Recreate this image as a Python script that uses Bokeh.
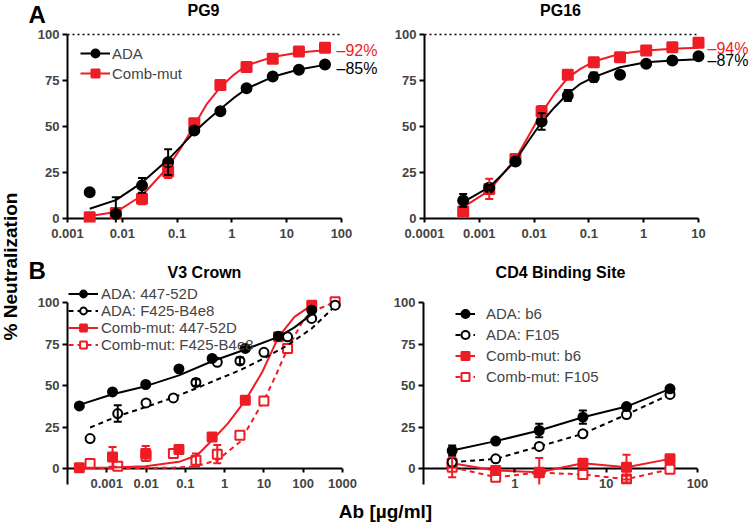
import math
from bokeh.plotting import figure
from bokeh.models import (Range1d, FixedTicker, CustomJSTickFormatter, Label, Legend,
                          LegendItem, Whisker, TeeHead, ColumnDataSource)
from bokeh.layouts import row, column
from bokeh.embed import file_html
from bokeh.resources import INLINE

RED = "#ee1c25"
BLACK = "#000000"
FONT = "Liberation Sans"

# ---------------- Panel A: PG9 ----------------
PG9_X = [0.00254, 0.00762, 0.0229, 0.0686, 0.206, 0.617, 1.85, 5.56, 16.7, 50]
PG9_ADA = [14.3, 2.5, 18, 30.6, 47.8, 58.3, 70.8, 77.2, 80.8, 83.7]
PG9_ADA_ERR = [0, 9, 4, 7, 0, 0, 0, 0, 0, 0]
PG9_MUT = [0.7, 3, 10.7, 25.5, 51.8, 72.6, 82.3, 86.8, 90.8, 92.8]
PG9_MUT_ERR = [0, 0, 3, 3.5, 0, 0, 0, 0, 0, 0]
PG9_FIT_X = [0.00254, 0.00762, 0.0229, 0.0686, 0.12, 0.206, 0.35, 0.617, 1.07, 1.85, 5.56, 16.7, 50]
PG9_ADA_FIT = [5.3, 10, 19.5, 32, 39.5, 47, 53.3, 59.5, 65.4, 70.5, 77, 81, 83.5]
PG9_MUT_FIT = [1.3, 3.5, 12.5, 28, 38.8, 50.5, 62.3, 71.4, 78, 83.2, 87.8, 90.2, 91.5]
PG9_TOPS = ["–92%", "–85%"]

# ---------------- Panel A: PG16 ----------------
PG16_X = [0.000508, 0.00152, 0.00457, 0.0137, 0.0412, 0.123, 0.37, 1.11, 3.33, 10]
PG16_ADA = [9.8, 16.7, 31, 52.7, 66.8, 76.8, 78.1, 84.1, 85.9, 88.2]
PG16_ADA_ERR = [3.5, 1.5, 2, 4.5, 3, 2.5, 0, 0, 0, 0]
PG16_MUT = [3.8, 16.1, 32.4, 58.2, 78.1, 84.9, 87.7, 91.3, 93.1, 95.5]
PG16_MUT_ERR = [0, 5.5, 0, 3, 0, 0, 0, 0, 0, 0]
PG16_FIT_X = [0.000508, 0.00152, 0.0027, 0.00457, 0.008, 0.0137, 0.0237, 0.0412, 0.07, 0.123, 0.37, 1.11, 3.33, 10]
PG16_ADA_FIT = [8.9, 17, 24.3, 31.5, 42.4, 52.3, 60.5, 67.8, 73.2, 76.8, 82.2, 84.9, 85.9, 86.5]
PG16_MUT_FIT = [6.2, 15.2, 24.3, 32.4, 45.1, 57.4, 67.8, 76.4, 81.3, 85.3, 89.5, 91.3, 92.2, 92.8]
PG16_TOPS = ["–94%", "–87%"]

# ---------------- Panel B: V3 Crown ----------------
V3_X_447 = [0.0002, 0.0014, 0.0098, 0.0686, 0.48, 3.36, 23.5, 165]
V3_ADA_447 = [37.7, 46.1, 50.6, 60, 66.3, 72.3, 79.7, 95.4]
V3_ADA_447_ERR = [0, 0, 0, 0, 0, 0, 0, 0]
V3_MUT_447 = [0.4, 7, 9, 11.4, 19, 41.1, 79.3, 98.4]
V3_MUT_447_ERR = [0, 6, 4.5, 0, 0, 0, 0, 0]
V3_X_F425 = [0.000376, 0.0019, 0.01, 0.0496, 0.186, 0.65, 2.45, 10, 40, 164, 650]
V3_ADA_F425 = [18, 33.1, 39.5, 42.5, 51.8, 64, 64.8, 70, 79.3, 90.4, 98.4]
V3_ADA_F425_ERR = [0, 5, 0, 0, 2, 0, 2, 0, 0, 0, 0]
V3_X_MUT_F425 = [0.000376, 0.0019, 0.01, 0.0496, 0.186, 0.65, 2.45, 10, 40, 650]
V3_MUT_F425 = [3, 1.4, 7.5, 9, 5, 8.6, 20, 40.7, 72.3, 100.4]
V3_MUT_F425_ERR = [0, 0, 0, 0, 4, 5.5, 0, 0, 0, 0]
V3_ADA_447_FIT_X = [0.0002, 0.0014, 0.0098, 0.0686, 0.48, 3.36, 23.5, 60, 165]
V3_ADA_447_FIT = [38.3, 44.7, 49.6, 56.1, 64.6, 71.7, 79.3, 85, 93]
V3_ADA_F425_FIT_X = [0.000376, 0.0019, 0.01, 0.0496, 0.186, 0.65, 2.45, 10, 40, 164, 650]
V3_ADA_F425_FIT = [24.7, 31.5, 37.1, 42.8, 48.2, 53.6, 59.2, 66.3, 74.3, 84.3, 97.8]
V3_MUT_447_FIT_X = [0.0002, 0.0014, 0.0098, 0.0686, 0.2, 0.48, 1.2, 3.36, 9, 23.5, 60, 165]
V3_MUT_447_FIT = [0.4, 0.6, 1.4, 4, 8, 17, 27, 41, 58, 79.3, 91.3, 98.4]
V3_MUT_F425_FIT_X = [0.000376, 0.0019, 0.01, 0.0496, 0.186, 0.65, 2.45, 10, 20, 40, 100, 165, 650]
V3_MUT_F425_FIT = [0.4, 0.3, 0.3, 0.5, 1.4, 5, 16, 41, 56, 72.3, 89.3, 94.4, 100.4]

# ---------------- Panel B: CD4 binding site ----------------
CD4_X = [0.206, 0.617, 1.85, 5.56, 16.7, 50]
CD4_ADA_B6 = [10.8, 16.5, 22.9, 30.9, 37.3, 48]
CD4_ADA_B6_ERR = [3, 0, 4, 4, 1.5, 0]
CD4_ADA_F105 = [3.8, 5.8, 13.3, 20.9, 32.5, 44.6]
CD4_ADA_F105_ERR = [0, 0, 0, 0, 0, 0]
CD4_MUT_B6 = [3.2, -1.2, -2.2, 3.2, 0.8, 5.8]
CD4_MUT_B6_ERR = [0, 0, 8.5, 0, 7.5, 0]
CD4_MUT_F105 = [0.8, -5.2, -2.5, -3.6, -6.4, -0.5]
CD4_MUT_F105_ERR = [6, 0, 0, 0, 2, 0]

# tick labels
TICKS_PG9 = [0.001, 0.01, 0.1, 1, 10, 100]
LABELS_PG9 = ["0.001", "0.01", "0.1", "1", "10", "100"]
TICKS_PG16 = [0.0001, 0.001, 0.01, 0.1, 1, 10]
LABELS_PG16 = ["0.0001", "0.001", "0.01", "0.1", "1", "10"]
TICKS_V3 = [0.001, 0.01, 0.1, 1, 10, 100, 1000]
LABELS_V3 = ["0.001", "0.01", "0.1", "1", "10", "100", "1000"]
TICKS_CD4 = [1, 10, 100]
LABELS_CD4 = ["1", "10", "100"]
Y_TICKS = [0, 25, 50, 75, 100]

# axis extents (data units)
PG9_AXIS = (0.001, 100)
PG16_AXIS = (0.0001, 10)
V3_AXIS = (0.0001, 1000)
CD4_AXIS = (0.1, 100)
TOP_LINE = 100


def make_panel(width, height, xr, yr, borders, xticks, xlabels, xaxis_bounds,
               ybounds, tick_in, tick_out, standoff):
    bl, br, bt, bb = borders
    p = figure(width=width, height=height, x_axis_type="log",
               x_range=Range1d(*xr), y_range=Range1d(*yr), title=None,
               output_backend="svg", toolbar_location=None,
               min_border_left=bl, min_border_right=br,
               min_border_top=bt, min_border_bottom=bb)
    p.outline_line_color = None
    p.xgrid.visible = False
    p.ygrid.visible = False
    p.background_fill_color = "white"
    p.border_fill_color = "white"

    xa = p.xaxis[0]
    xa.ticker = FixedTicker(ticks=xticks)
    xa.formatter = CustomJSTickFormatter(
        args=dict(tvals=xticks, tlabels=xlabels),
        code="""
        for (let i = 0; i < tvals.length; i++) {
            if (Math.abs(Math.log10(tvals[i]) - Math.log10(tick)) < 1e-6) return tlabels[i];
        }
        return "";
        """)
    xa.axis_line_color = None
    xa.major_tick_in = tick_in
    xa.major_tick_out = tick_out
    xa.minor_tick_in = 0
    xa.minor_tick_out = 0
    xa.major_tick_line_width = 2
    xa.major_label_standoff = standoff
    xa.bounds = xaxis_bounds
    xa.major_label_text_font = FONT
    xa.major_label_text_font_style = "bold"
    xa.major_label_text_font_size = "13px"

    ya = p.yaxis[0]
    ya.ticker = FixedTicker(ticks=Y_TICKS)
    ya.axis_line_width = 2
    ya.major_tick_in = 0
    ya.major_tick_out = 5
    ya.minor_tick_in = 0
    ya.minor_tick_out = 0
    ya.major_tick_line_width = 2
    ya.major_label_standoff = 3
    ya.bounds = ybounds
    ya.major_label_text_font = FONT
    ya.major_label_text_font_style = "bold"
    ya.major_label_text_font_size = "13px"

    # x axis line drawn at y = 0
    p.line(x=list(xaxis_bounds), y=[0, 0], line_color=BLACK, line_width=2)
    return p


def add_err(p, xs, ys, errs, color):
    xe = [x for x, e in zip(xs, errs) if e > 0]
    lo = [y - e for y, e in zip(ys, errs) if e > 0]
    hi = [y + e for y, e in zip(ys, errs) if e > 0]
    if not xe:
        return
    src = ColumnDataSource(dict(x=xe, lo=lo, hi=hi))
    w = Whisker(source=src, base="x", lower="lo", upper="hi",
                line_color=color, line_width=2,
                upper_head=TeeHead(size=8, line_color=color, line_width=2),
                lower_head=TeeHead(size=8, line_color=color, line_width=2))
    w.level = "glyph"
    p.add_layout(w)


def series(p, fx, fy, xs, ys, errs, color, marker, filled, dash, size):
    lr = p.line(x=fx, y=fy, line_color=color, line_width=2,
                line_dash=("5 4" if dash else "solid"))
    add_err(p, xs, ys, errs, color)
    sr = p.scatter(x=xs, y=ys, marker=marker, size=size,
                   fill_color=(color if filled else "white"),
                   line_color=color, line_width=2)
    return [lr, sr]


def add_text(p, x, y, text, size, color=BLACK, bold=True, align="left",
             baseline="middle", angle=0.0):
    p.add_layout(Label(x=x, y=y, x_units="screen", y_units="screen", text=text,
                       text_font=FONT, text_font_size=size, angle=angle,
                       text_font_style=("bold" if bold else "normal"),
                       text_color=color, text_align=align, text_baseline=baseline))


def make_legend(p, items, loc, glyph_w, glyph_h, standoff):
    leg = Legend(items=[LegendItem(label=l, renderers=r) for l, r in items],
                 location=loc, glyph_width=glyph_w, glyph_height=glyph_h,
                 label_height=glyph_h, spacing=0, padding=0, margin=0,
                 border_line_color=None, background_fill_alpha=0,
                 label_text_font=FONT, label_text_font_size="15px",
                 label_standoff=standoff)
    p.add_layout(leg)


def blank(width, height):
    p = figure(width=width, height=height, x_range=Range1d(0, 1), y_range=Range1d(0, 1),
               title=None, output_backend="svg", toolbar_location=None,
               x_axis_location=None, y_axis_location=None, min_border=0)
    p.outline_line_color = None
    p.grid.visible = False
    return p


# ---- geometry (pixels) ----
A_PX = 1.84   # px per % (row A)
B_PX = 1.66   # px per % (row B)
A_YR = (-4 / A_PX, 100 + 4 / A_PX)
B_YR = (-16 / B_PX, 100 + 17 / B_PX)
A_DEC = 54.8  # px per decade (row A)

# header strips
hA = blank(729, 28)
add_text(hA, 8, 14, "A", "24px")
add_text(hA, 183, 18, "PG9", "16px", align="center")
add_text(hA, 540, 18, "PG16", "16px", align="center")

hB = blank(729, 34)
add_text(hB, 8, 14, "B", "24px")
add_text(hB, 184, 12, "V3 Crown", "16px", align="center")
add_text(hB, 540, 12, "CD4 Binding Site", "16px", align="center")

# PG9
pA1 = make_panel(360, 222, (PG9_AXIS[0], 10 ** (-3 + 313 / A_DEC)), A_YR, (47, 0, 2, 28),
                 TICKS_PG9, LABELS_PG9, PG9_AXIS, (0, 100), 4, 0, 6)
pA1.line(x=list(PG9_AXIS), y=[TOP_LINE, TOP_LINE], line_color=BLACK, line_width=1.5,
         line_dash="2 3")
m1 = series(pA1, PG9_FIT_X, PG9_MUT_FIT, PG9_X, PG9_MUT, PG9_MUT_ERR, RED, "square", True, False, 10)
a1 = series(pA1, PG9_FIT_X, PG9_ADA_FIT, PG9_X, PG9_ADA, PG9_ADA_ERR, BLACK, "circle", True, False, 10)
make_legend(pA1, [("ADA", a1), ("Comb-mut", m1)], (13, 139), 30, 20, 2)
add_text(pA1, 269, 172, PG9_TOPS[0], "16px", RED, bold=False)
add_text(pA1, 269, 154, PG9_TOPS[1], "16px", BLACK, bold=False)

# PG16
pA2 = make_panel(369, 222, (PG16_AXIS[0], 10 ** (-4 + 325 / A_DEC)), A_YR, (44, 0, 2, 28),
                 TICKS_PG16, LABELS_PG16, PG16_AXIS, (0, 100), 4, 0, 6)
pA2.line(x=list(PG16_AXIS), y=[TOP_LINE, TOP_LINE], line_color=BLACK, line_width=1.5,
         line_dash="2 3")
series(pA2, PG16_FIT_X, PG16_MUT_FIT, PG16_X, PG16_MUT, PG16_MUT_ERR, RED, "square", True, False, 10)
series(pA2, PG16_FIT_X, PG16_ADA_FIT, PG16_X, PG16_ADA, PG16_ADA_ERR, BLACK, "circle", True, False, 10)
add_text(pA2, 283, 174, PG16_TOPS[0], "16px", RED, bold=False)
add_text(pA2, 283, 162, PG16_TOPS[1], "16px", BLACK, bold=False)

# V3 crown
pB1 = make_panel(360, 216, V3_AXIS, B_YR, (47, 38, 1, 16), TICKS_V3, LABELS_V3,
                 V3_AXIS, (B_YR[0], 100), 16, -12, -6)
mf = series(pB1, V3_MUT_F425_FIT_X, V3_MUT_F425_FIT, V3_X_MUT_F425, V3_MUT_F425, V3_MUT_F425_ERR,
            RED, "square", False, True, 9)
m4 = series(pB1, V3_MUT_447_FIT_X, V3_MUT_447_FIT, V3_X_447, V3_MUT_447, V3_MUT_447_ERR,
            RED, "square", True, False, 9)
af = series(pB1, V3_ADA_F425_FIT_X, V3_ADA_F425_FIT, V3_X_F425, V3_ADA_F425, V3_ADA_F425_ERR,
            BLACK, "circle", False, True, 9)
a4 = series(pB1, V3_ADA_447_FIT_X, V3_ADA_447_FIT, V3_X_447, V3_ADA_447, V3_ADA_447_ERR,
            BLACK, "circle", True, False, 9)
make_legend(pB1, [("ADA: 447-52D", a4), ("ADA: F425-B4e8", af),
                  ("Comb-mut: 447-52D", m4), ("Comb-mut: F425-B4e8", mf)],
            (1, 131), 30, 17, 3)

# CD4 binding site
pB2 = make_panel(369, 216, CD4_AXIS, B_YR, (43, 52, 1, 16), TICKS_CD4, LABELS_CD4,
                 CD4_AXIS, (B_YR[0], 100), 16, -12, -6)
cf = series(pB2, CD4_X, CD4_MUT_F105, CD4_X, CD4_MUT_F105, CD4_MUT_F105_ERR, RED, "square", False, True, 9)
cb = series(pB2, CD4_X, CD4_MUT_B6, CD4_X, CD4_MUT_B6, CD4_MUT_B6_ERR, RED, "square", True, False, 9)
af2 = series(pB2, CD4_X, CD4_ADA_F105, CD4_X, CD4_ADA_F105, CD4_ADA_F105_ERR, BLACK, "circle", False, True, 9)
ab2 = series(pB2, CD4_X, CD4_ADA_B6, CD4_X, CD4_ADA_B6, CD4_ADA_B6_ERR, BLACK, "circle", True, False, 9)
make_legend(pB2, [("ADA: b6", ab2), ("ADA: F105", af2),
                  ("Comb-mut: b6", cb), ("Comb-mut: F105", cf)],
            (32, 97), 20, 21, 11)

# shared axis titles
pY = blank(20, 524)
add_text(pY, 9.5, 258, "% Neutralization", "19px", align="center", angle=math.pi / 2)
pX = blank(729, 24)
add_text(pX, 365, 13.5, "Ab [µg/ml]", "19px", align="center")

layout = row(pY, column(hA, row(pA1, pA2), hB, row(pB1, pB2), pX))
open("out.html", "w").write(file_html(layout, INLINE))
